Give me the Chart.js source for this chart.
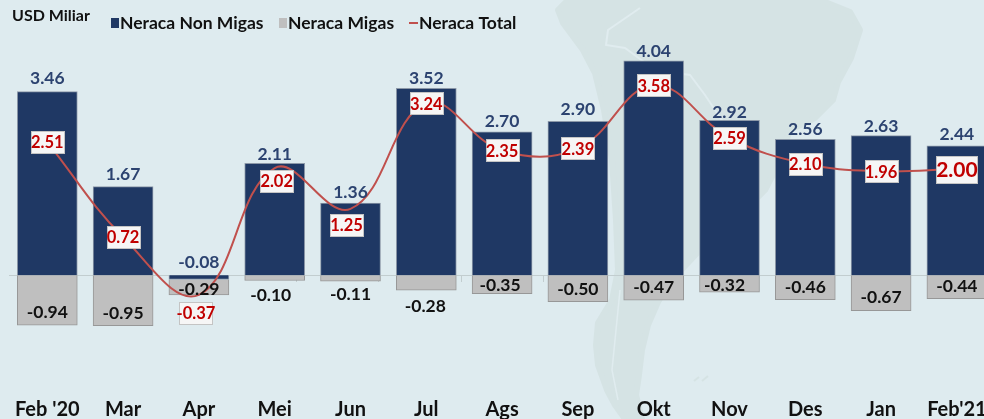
<!DOCTYPE html>
<html>
<head>
<meta charset="utf-8">
<title>Neraca Perdagangan</title>
<style>
    html, body { margin: 0; padding: 0; width: 984px; height: 419px; overflow: hidden; background: #deebef; }
    #wrap { position: relative; width: 1000px; height: 428px; }
    #map { position: absolute; left: 0; top: 0; }
    #chart { position: relative; }
</style>
<script src="https://cdn.jsdelivr.net/npm/chart.js@4/dist/chart.umd.min.js"></script>
</head>
<body>
<div id="wrap">
    <svg id="map" width="984" height="419" viewBox="0 0 984 419">
        <path fill="#d5e3e4" stroke="#d5e3e4" stroke-width="6" stroke-linejoin="round" d="M558 10 L568 0 L820 0 L850 12 L860 30 L851 58 L838 82 L833 100 L815 118 L790 130 L778 165 L765 190 L740 215 L700 250 L672 280 L658 302 L648 325 L642 350 L639 375 L636 395 L642 419 L625 419 L615 405 L607 390 L598 365 L596 345 L598 323 L612 300 L618 270 L616 220 L612 160 L604 110 L595 73 L583 50 L563 23 Z"/>
        <path fill="none" stroke="#e0ecef" stroke-width="2" d="M640 8 L608 30 L606 45 L625 48 L655 70 L690 75 L705 95 L735 140"/>
        <path fill="none" stroke="#e0ecef" stroke-width="1.5" d="M620 290 L616 330 L612 370 L618 400"/>
        <path fill="none" stroke="#d5e3e4" stroke-width="2" d="M694 381 L699 377 M702 381 L708 376"/>
    </svg>
    <canvas id="chart" width="1000" height="428"></canvas>
</div>
<script>
const categories = ["Feb '20", "Mar", "Apr", "Mei", "Jun", "Jul", "Ags", "Sep", "Okt", "Nov", "Des", "Jan", "Feb'21"];
const neracaNonMigas = [3.46, 1.67, -0.08, 2.11, 1.36, 3.52, 2.70, 2.90, 4.04, 2.92, 2.56, 2.63, 2.44];
const neracaMigas = [-0.94, -0.95, -0.29, -0.10, -0.11, -0.28, -0.35, -0.50, -0.47, -0.32, -0.46, -0.67, -0.44];
const neracaTotal = [2.51, 0.72, -0.37, 2.02, 1.25, 3.24, 2.35, 2.39, 3.58, 2.59, 2.10, 1.96, 2.00];

// hand placed label offsets, in px from the end of each mark
const nonMigasNudge = [-13, -12, -13, -9, -10.5, -10, -11, -12, -9, -8, -10, -9, -11];
const migasNudge = [-13, -12.5, -5, 15, 13, 16, -8, -12.6, -13, -7, -12.5, -13.6, -12.4];
const migasShiftX = [0, 0, 0, -4, 0, -1, -2, 0, 0, -5, 0, 0, 0];
const totalNudge = [[0, 0], [0, 0], [-3, 18], [2, 13], [-4, 16], [0, 0], [0, 0], [0, 0], [0, 0], [0, 0], [0, 0], [0, 0], [0, 0]];

const FONT = "Lato, Carlito, sans-serif";
const NAVY = "#1f3864";
const GREY = "#bfbfbf";
const RED = "#c0504d";

function fmt(v) {
    return v.toFixed(2);
}

function drawBox(ctx, text, x, y, big) {
    ctx.font = `bold ${big ? 21 : 16.5}px ${FONT}`;
    let w = big ? 41 : 33;
    let h = big ? 27 : 22;
    let left = Math.round(x - w / 2) + 0.5;
    let top = Math.round(y - h / 2) + 0.5;
    ctx.fillStyle = "#f6f6f6";
    ctx.strokeStyle = "#c4c4c4";
    ctx.lineWidth = 1;
    ctx.fillRect(left, top, w, h);
    ctx.strokeRect(left, top, w, h);
    ctx.fillStyle = "#c00000";
    ctx.fillText(text, x, y + 1);
}

const labelPlugin = {
    id: "labels",
    afterDatasetsDraw(chart) {
        const ctx = chart.ctx;
        ctx.save();
        ctx.textAlign = "center";
        ctx.textBaseline = "middle";

        ctx.font = `bold 17.5px ${FONT}`;
        ctx.fillStyle = "#2c4370";
        chart.getDatasetMeta(0).data.forEach((bar, i) => {
            let top = Math.min(bar.y, bar.base);
            ctx.fillText(fmt(neracaNonMigas[i]), bar.x, top + nonMigasNudge[i]);
        });

        ctx.fillStyle = "#111111";
        chart.getDatasetMeta(1).data.forEach((bar, i) => {
            let bottom = Math.max(bar.y, bar.base);
            ctx.fillText(fmt(neracaMigas[i]), bar.x + migasShiftX[i], bottom + migasNudge[i]);
        });

        chart.getDatasetMeta(2).data.forEach((pt, i) => {
            drawBox(ctx, fmt(neracaTotal[i]), pt.x + totalNudge[i][0], pt.y + totalNudge[i][1], i === 12);
        });
        ctx.restore();
    }
};

const legendPlugin = {
    id: "legendStrip",
    afterDraw(chart) {
        const ctx = chart.ctx;
        ctx.save();
        ctx.textBaseline = "middle";
        ctx.fillStyle = "#111111";
        ctx.font = `bold 16px ${FONT}`;
        ctx.fillText("USD Miliar", 12, 16);

        ctx.font = `bold 17.5px ${FONT}`;
        chart.data.datasets.forEach((ds, i) => {
            let x = [111, 279, 409][i];
            if (ds.type === "line") {
                ctx.fillStyle = ds.borderColor;
                ctx.fillRect(x, 22, 9, 2);
                x += 10;
            } else {
                ctx.fillStyle = ds.backgroundColor;
                ctx.fillRect(x, 18, 8, 10);
                x += 9;
            }
            ctx.fillStyle = "#111111";
            ctx.fillText(ds.label, x, 23);
        });
        ctx.restore();
    }
};

new Chart(document.getElementById("chart"), {
    data: {
        labels: categories,
        datasets: [
            { type: "bar", label: "Neraca Non Migas", data: neracaNonMigas, backgroundColor: NAVY, borderColor: "#8c98a8", borderWidth: 1, barThickness: 60, stack: "bars", order: 2 },
            { type: "bar", label: "Neraca Migas", data: neracaMigas, backgroundColor: GREY, borderColor: "#979797", borderWidth: 1, barThickness: 60, stack: "bars", order: 2 },
            { type: "line", label: "Neraca Total", data: neracaTotal, borderColor: RED, borderWidth: 2, tension: 0.4, pointRadius: 0, stack: "total", order: 1 }
        ]
    },
    options: {
        responsive: false,
        animation: false,
        layout: { padding: { left: 9.4, right: 5.2, top: 3.5, bottom: 0 } },
        plugins: { legend: { display: false }, tooltip: { enabled: false } },
        scales: {
            x: {
                stacked: true,
                grid: { display: false },
                border: { display: false },
                ticks: { color: "#111111", font: { family: FONT, size: 20, weight: "bold" }, padding: 6, maxRotation: 0, autoSkip: false }
            },
            axisLine: {
                type: "category",
                axis: "x",
                position: { y: 0 },
                grid: { drawOnChartArea: false, drawTicks: true, tickLength: 6, color: "#c2cdcf", offset: true },
                border: { display: true, color: "#c2cdcf" },
                ticks: { display: false }
            },
            y: { display: false, stacked: true, min: -2.05, max: 5.12 }
        }
    },
    plugins: [labelPlugin, legendPlugin]
});
</script>
</body>
</html>
